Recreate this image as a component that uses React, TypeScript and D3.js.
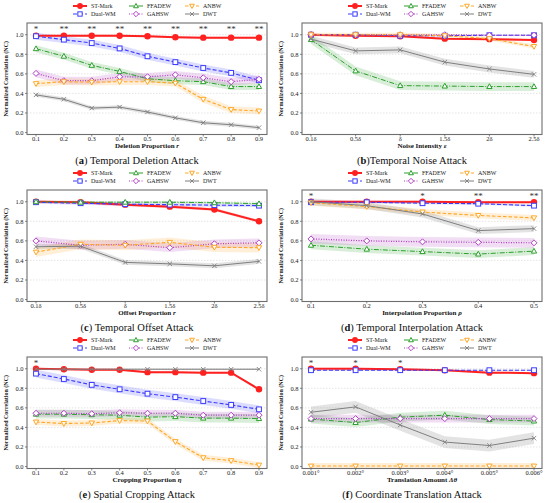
import * as d3 from 'd3';
import React, { useEffect, useRef } from 'react';

const seriesNames = ['ST-Mark', 'Dual-WM', 'FFADEW', 'GAHSW', 'ANBW', 'DWT'];
const seriesColors = ['#ff2020', '#3c3cff', '#2ca02c', '#b040c4', '#ffa726', '#7f7f7f'];
const seriesDash = ['', '4,2', '5,1.5,1,1.5', '1,1.5', '3.5,2', ''];
const seriesWidth = [2, 1.1, 1, 1.2, 1.1, 1];

const yTicks = [0, 0.2, 0.4, 0.6, 0.8, 1.0];

// (a) temporal deletion
const deletionTicks = ['0.1', '0.2', '0.3', '0.4', '0.5', '0.6', '0.7', '0.8', '0.9'];
const deletionValues = [
  [0.99, 0.99, 0.99, 0.99, 0.985, 0.975, 0.97, 0.97, 0.97],
  [0.985, 0.95, 0.915, 0.86, 0.78, 0.72, 0.66, 0.61, 0.535],
  [0.857, 0.78, 0.687, 0.625, 0.55, 0.53, 0.52, 0.47, 0.47],
  [0.605, 0.53, 0.53, 0.57, 0.57, 0.59, 0.56, 0.52, 0.545],
  [0.5, 0.52, 0.515, 0.52, 0.52, 0.505, 0.34, 0.235, 0.22],
  [0.385, 0.34, 0.25, 0.26, 0.21, 0.15, 0.1, 0.08, 0.05],
];
const deletionSpread = [0.01, 0.035, 0.035, 0.04, 0.035, 0.02];
const deletionStars = ['*', '**', '**', '**', '**', '**', '**', '**', '**'];

// (b) temporal noise
const deltaTicks = ['0.1δ', '0.5δ', 'δ', '1.5δ', '2δ', '2.5δ'];
const noiseValues = [
  [1.0, 0.99, 0.985, 0.96, 0.955, 0.945],
  [1.0, 1.0, 0.99, 0.99, 0.995, 0.995],
  [0.95, 0.63, 0.48, 0.475, 0.47, 0.47],
  [1.0, 1.0, 1.0, 1.0, 0.995, 0.995],
  [1.0, 1.0, 1.0, 0.99, 0.96, 0.88],
  [0.955, 0.835, 0.845, 0.72, 0.65, 0.595],
];
const noiseSpread = [0.01, 0.005, 0.045, 0.005, 0.02, 0.035];
const noiseStars = ['', '', '', '', '', ''];

// (c) temporal offset
const offsetValues = [
  [1.0, 0.995, 0.97, 0.95, 0.92, 0.8],
  [0.995, 0.985, 0.975, 0.97, 0.965, 0.96],
  [1.0, 0.995, 0.995, 0.995, 0.99, 0.98],
  [0.6, 0.555, 0.565, 0.53, 0.57, 0.58],
  [0.485, 0.565, 0.555, 0.585, 0.535, 0.53],
  [0.54, 0.545, 0.38, 0.365, 0.345, 0.39],
];
const offsetSpread = [0.015, 0.015, 0.01, 0.045, 0.05, 0.025];
const offsetStars = ['', '', '', '', '', ''];

// (d) temporal interpolation
const interpolationTicks = ['0.1', '0.2', '0.3', '0.4', '0.5'];
const interpolationValues = [
  [1.0, 1.0, 1.0, 0.995, 0.995],
  [0.995, 0.995, 0.985, 0.98, 0.96],
  [0.555, 0.515, 0.49, 0.465, 0.495],
  [0.62, 0.6, 0.59, 0.585, 0.58],
  [0.99, 0.95, 0.895, 0.86, 0.835],
  [1.0, 0.96, 0.875, 0.705, 0.725],
];
const interpolationSpread = [0.01, 0.01, 0.04, 0.05, 0.03, 0.035];
const interpolationStars = ['*', '', '*', '**', '**'];

// (e) spatial cropping
const croppingTicks = ['0.1', '0.2', '0.3', '0.4', '0.5', '0.6', '0.7', '0.8', '0.9'];
const croppingValues = [
  [1.0, 0.995, 0.99, 0.99, 0.965, 0.965, 0.96, 0.96, 0.79],
  [0.95, 0.895, 0.835, 0.79, 0.745, 0.71, 0.67, 0.63, 0.585],
  [0.535, 0.535, 0.53, 0.525, 0.505, 0.51, 0.495, 0.495, 0.49],
  [0.545, 0.545, 0.54, 0.55, 0.545, 0.545, 0.525, 0.525, 0.525],
  [0.455, 0.44, 0.445, 0.47, 0.465, 0.255, 0.09, 0.06, 0.015],
  [0.995, 0.995, 0.995, 0.995, 0.995, 0.995, 0.995, 0.995, 0.995],
];
const croppingSpread = [0.01, 0.04, 0.045, 0.035, 0.03, 0.005];
const croppingStars = ['*', '', '', '', '', '', '', '', ''];

// (f) coordinate translation
const translationTicks = ['0.001°', '0.002°', '0.003°', '0.004°', '0.005°', '0.006°'];
const translationValues = [
  [1.0, 1.0, 0.995, 0.985, 0.96, 0.955],
  [0.985, 0.985, 0.985, 0.985, 0.985, 0.985],
  [0.485, 0.45, 0.505, 0.525, 0.48, 0.465],
  [0.49, 0.49, 0.49, 0.49, 0.49, 0.49],
  [0.005, 0.005, 0.005, 0.005, 0.005, 0.005],
  [0.555, 0.61, 0.425, 0.25, 0.215, 0.29],
];
const translationSpread = [0.01, 0.005, 0.045, 0.04, 0.03, 0.06];
const translationStars = ['*', '*', '*', '', '', ''];

const panels = [
  { ticks: deletionTicks, values: deletionValues, spread: deletionSpread, stars: deletionStars, xLabel: ['Deletion Proportion ', 'r'], letter: 'a', caption: ' Temporal Deletion Attack' },
  { ticks: deltaTicks, values: noiseValues, spread: noiseSpread, stars: noiseStars, xLabel: ['Noise Intensity ', 'ε'], letter: 'b', caption: 'Temporal Noise Attack' },
  { ticks: deltaTicks, values: offsetValues, spread: offsetSpread, stars: offsetStars, xLabel: ['Offset Proportion ', 'r'], letter: 'c', caption: ' Temporal Offset Attack' },
  { ticks: interpolationTicks, values: interpolationValues, spread: interpolationSpread, stars: interpolationStars, xLabel: ['Interpolation Proportion ', 'ρ'], letter: 'd', caption: ' Temporal Interpolation Attack' },
  { ticks: croppingTicks, values: croppingValues, spread: croppingSpread, stars: croppingStars, xLabel: ['Cropping Proportion ', 'η'], letter: 'e', caption: ' Spatial Cropping Attack' },
  { ticks: translationTicks, values: translationValues, spread: translationSpread, stars: translationStars, xLabel: ['Translation Amount ', 'Δθ'], letter: 'f', caption: ' Coordinate Translation Attack' },
];

const serif = '"Liberation Serif", "DejaVu Serif", serif';

// marker for series k, centered at (cx, cy)
const drawMarker = (g: any, k: number, cx: number, cy: number, s = 1) => {
  const c = seriesColors[k];
  if (k === 0) {
    g.append('circle').attr('cx', cx).attr('cy', cy).attr('r', 3.2 * s).attr('fill', c);
  } else if (k === 1) {
    const h = 2.4 * s;
    g.append('rect').attr('x', cx - h).attr('y', cy - h).attr('width', 2 * h).attr('height', 2 * h)
      .attr('fill', 'white').attr('stroke', c).attr('stroke-width', 1);
  } else if (k === 2 || k === 4) {
    const h = 2.8 * s;
    const dir = k === 2 ? 1 : -1;
    const pts = [[cx, cy - dir * h], [cx + h * 0.95, cy + dir * h * 0.7], [cx - h * 0.95, cy + dir * h * 0.7]];
    g.append('path').attr('d', d3.line()(pts as [number, number][]) + 'Z')
      .attr('fill', 'white').attr('stroke', c).attr('stroke-width', 1);
  } else if (k === 3) {
    const h = 3 * s;
    const pts = [[cx, cy - h], [cx + h, cy], [cx, cy + h], [cx - h, cy]];
    g.append('path').attr('d', d3.line()(pts as [number, number][]) + 'Z')
      .attr('fill', 'white').attr('stroke', c).attr('stroke-width', 1);
  } else {
    const h = 2.2 * s;
    g.append('path').attr('d', `M${cx - h},${cy - h}L${cx + h},${cy + h}M${cx - h},${cy + h}L${cx + h},${cy - h}`)
      .attr('stroke', c).attr('stroke-width', 0.9);
  }
};

const App = () => {
  const svgRef = useRef<SVGSVGElement>(null);

  useEffect(() => {
    const svg = d3.select(svgRef.current);
    svg.selectAll('*').remove();

    const plotLeft = 27;
    const plotRight = 267;
    const plotTop = 23;
    const plotBottom = 134.5;

    panels.forEach((p, i) => {
      const g = svg.append('g')
        .attr('transform', `translate(${(i % 2) * 275}, ${Math.floor(i / 2) * 167})`);

      const x = d3.scalePoint<string>().domain(p.ticks).range([36, 259]);
      const y = d3.scaleLinear().domain([-0.02, 1.12]).range([plotBottom, plotTop]);

      // grid
      g.selectAll('.grid').data(yTicks.slice(1)).enter().append('line')
        .attr('x1', plotLeft).attr('x2', plotRight)
        .attr('y1', (d) => y(d)).attr('y2', (d) => y(d))
        .attr('stroke', '#d4d4d4').attr('stroke-width', 0.6).attr('stroke-dasharray', '1.5,1.5');

      // bands
      p.values.forEach((vals, k) => {
        const area = d3.area<number>()
          .x((_, j) => x(p.ticks[j]) as number)
          .y0((d) => y(d - p.spread[k]))
          .y1((d) => y(d + p.spread[k]));
        g.append('path').datum(vals).attr('d', area)
          .attr('fill', seriesColors[k]).attr('fill-opacity', k === 5 ? 0.22 : 0.18);
      });

      // lines and markers
      p.values.forEach((vals, k) => {
        const line = d3.line<number>()
          .x((_, j) => x(p.ticks[j]) as number)
          .y((d) => y(d));
        g.append('path').datum(vals).attr('d', line)
          .attr('fill', 'none').attr('stroke', seriesColors[k])
          .attr('stroke-width', seriesWidth[k])
          .attr('stroke-dasharray', seriesDash[k]);
        vals.forEach((v, j) => drawMarker(g, k, x(p.ticks[j]) as number, y(v)));
      });

      // significance stars
      p.stars.forEach((s, j) => {
        if (!s) return;
        g.append('text').attr('x', x(p.ticks[j]) as number).attr('y', y(1.025))
          .attr('text-anchor', 'middle').attr('font-family', serif).attr('font-size', 9)
          .attr('fill', '#333').text(s);
      });

      // frame
      g.append('rect').attr('x', plotLeft).attr('y', plotTop)
        .attr('width', plotRight - plotLeft).attr('height', plotBottom - plotTop)
        .attr('fill', 'none').attr('stroke', '#6e6e6e').attr('stroke-width', 1.1);

      // y axis
      yTicks.forEach((t) => {
        g.append('line').attr('x1', plotLeft - 2).attr('x2', plotLeft).attr('y1', y(t)).attr('y2', y(t))
          .attr('stroke', '#555').attr('stroke-width', 0.7);
        g.append('text').attr('x', plotLeft - 3.5).attr('y', y(t) + 2.3)
          .attr('text-anchor', 'end').attr('font-family', serif).attr('font-size', 6.5)
          .attr('fill', '#222').text(d3.format('.1f')(t));
      });
      g.append('text')
        .attr('transform', `translate(8, ${(plotTop + plotBottom) / 2}) rotate(-90)`)
        .attr('text-anchor', 'middle').attr('font-family', serif).attr('font-size', 6)
        .attr('font-weight', 'bold').attr('fill', '#222').text('Normalized Correlation (NC)');

      // x axis
      p.ticks.forEach((t) => {
        const tx = x(t) as number;
        g.append('line').attr('x1', tx).attr('x2', tx).attr('y1', plotBottom).attr('y2', plotBottom + 2)
          .attr('stroke', '#555').attr('stroke-width', 0.7);
        g.append('text').attr('x', tx).attr('y', 140.5)
          .attr('text-anchor', 'middle').attr('font-family', serif).attr('font-size', 6.5)
          .attr('fill', '#222').text(t);
      });
      const xl = g.append('text').attr('x', (plotLeft + plotRight) / 2).attr('y', 147.5)
        .attr('text-anchor', 'middle').attr('font-family', serif).attr('font-size', 7)
        .attr('font-weight', 'bold').attr('fill', '#111');
      xl.append('tspan').text(p.xLabel[0]);
      xl.append('tspan').attr('font-style', 'italic').text(p.xLabel[1]);

      // caption
      const cap = g.append('text').attr('x', 137).attr('y', 164)
        .attr('text-anchor', 'middle').attr('font-family', serif).attr('font-size', 10.5)
        .attr('fill', '#111');
      cap.append('tspan').text('(');
      cap.append('tspan').attr('font-weight', 'bold').text(p.letter);
      cap.append('tspan').text(')' + p.caption);

      // legend
      const colX = [73, 129, 185];
      const rowY = [6, 14];
      seriesNames.forEach((name, k) => {
        const lx = colX[Math.floor(k / 2)];
        const ly = rowY[k % 2];
        g.append('line').attr('x1', lx).attr('x2', lx + 14).attr('y1', ly).attr('y2', ly)
          .attr('stroke', seriesColors[k]).attr('stroke-width', seriesWidth[k])
          .attr('stroke-dasharray', seriesDash[k]);
        drawMarker(g, k, lx + 7, ly, 0.9);
        g.append('text').attr('x', lx + 18).attr('y', ly + 2)
          .attr('font-family', serif).attr('font-size', 6).attr('fill', '#222').text(name);
      });
    });
  }, []);

  return (
    <svg
      ref={svgRef}
      width={550}
      height={503}
      style={{ position: 'absolute', left: 0, top: 0, background: '#fff' }}
    />
  );
};

export default App;
